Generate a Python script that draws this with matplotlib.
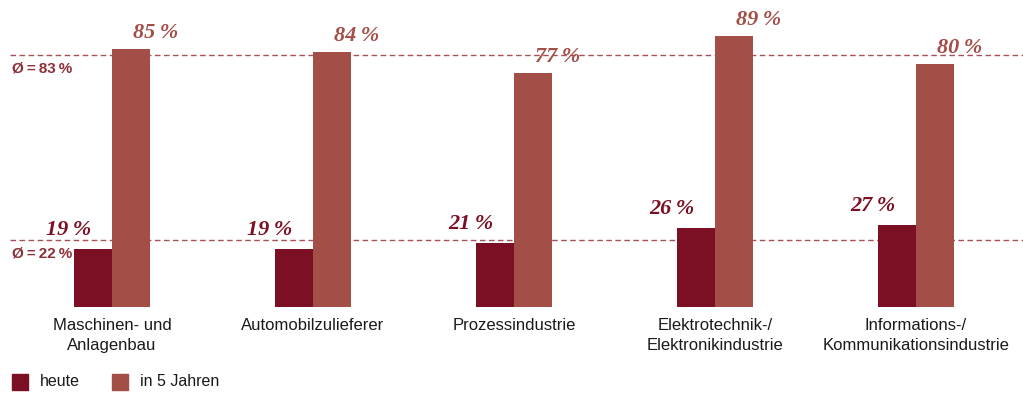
import numpy as np
import matplotlib
matplotlib.use("Agg")
from matplotlib import pyplot as plt
from matplotlib.patches import Rectangle

# Data
categories = ["Maschinen- und\nAnlagenbau", "Automobilzulieferer", "Prozessindustrie",
              "Elektrotechnik-/\nElektronikindustrie", "Informations-/\nKommunikationsindustrie"]
heute = [19, 19, 21, 26, 27]
in_5_jahren = [85, 84, 77, 89, 80]
avg_heute = 22
avg_5_jahren = 83
series_names = ["heute", "in 5 Jahren"]

c_dark = "#7b1024"
c_light = "#a34f48"
c_line = "#a8505a"

plt.rcParams['font.family'] = ['Liberation Sans', 'DejaVu Sans']

fig = plt.figure(figsize=(10.23, 3.97), dpi=100)
ax = fig.add_axes([0, 90 / 397, 1, 307 / 397])

x = np.arange(len(categories))
w = 0.19
ax.bar(x - w / 2, heute, w, color=c_dark, zorder=3)
ax.bar(x + w / 2, in_5_jahren, w, color=c_light, zorder=3)

ax.set_xlim(-0.557, 4.532)
ax.set_ylim(0, 101)
ax.axis("off")

# average lines
for val in (avg_heute, avg_5_jahren):
    ax.plot([0.01, 1], [val, val], transform=ax.get_yaxis_transform(),
            ls=(0, (4, 2.5)), lw=1, color=c_line, zorder=2)
    ax.text(0.012, val - 2.2, f"Ø\u2009=\u2009{val}\u2009%", transform=ax.get_yaxis_transform(),
            ha="left", va="top", fontsize=11, color="#8c2f38", fontweight="bold")

# value labels
serif = dict(family="Liberation Serif", fontweight="bold", fontstyle="italic", fontsize=16)
for i in range(len(categories)):
    ax.text(x[i] - w / 2 - 0.12, heute[i] + 3, f"{heute[i]}\u2009%", ha="center", va="bottom",
            color=c_dark, **serif)
    ax.text(x[i] + w / 2 + 0.12, in_5_jahren[i] + 2, f"{in_5_jahren[i]}\u2009%", ha="center",
            va="bottom", color=c_light, **serif)

# category labels
for i, cat in enumerate(categories):
    ax.text(x[i], -3.5, cat, ha="center", va="top", fontsize=12, color="#1a1a1a",
            linespacing=1.45, clip_on=False)

# legend
fig.patches.append(Rectangle((12 / 1023, 7 / 397), 16 / 1023, 16 / 397,
                             transform=fig.transFigure, color=c_dark))
fig.text(40 / 1023, 15 / 397, series_names[0], ha="left", va="center", fontsize=11.5, color="#1a1a1a")
fig.patches.append(Rectangle((112 / 1023, 7 / 397), 16 / 1023, 16 / 397,
                             transform=fig.transFigure, color=c_light))
fig.text(140 / 1023, 15 / 397, series_names[1], ha="left", va="center", fontsize=11.5, color="#1a1a1a")

fig.savefig("out.png", dpi=100)
